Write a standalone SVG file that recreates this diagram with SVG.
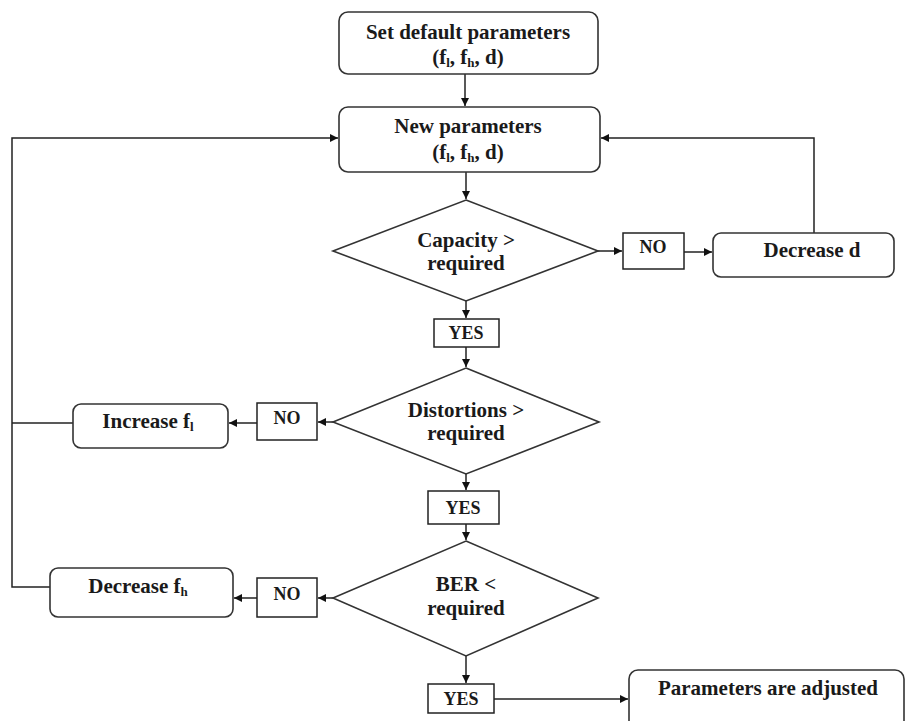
<svg xmlns="http://www.w3.org/2000/svg" width="908" height="721" viewBox="0 0 908 721">
<style>
.box{fill:#fff;stroke:#333;stroke-width:1.6}
.lbl{fill:#fff;stroke:#222;stroke-width:1.5}
.t{font-family:"Liberation Serif","Times New Roman",serif;font-weight:bold;font-size:21px;fill:#1a1a1a;text-anchor:middle}
.s{font-family:"Liberation Serif","Times New Roman",serif;font-weight:bold;font-size:18px;fill:#1a1a1a;text-anchor:middle}
.c{fill:none;stroke:#222;stroke-width:1.5}
</style>
<defs>
<marker id="ah" viewBox="0 0 10 10" refX="10" refY="5" markerWidth="8" markerHeight="8" markerUnits="userSpaceOnUse" orient="auto">
<path d="M0,0 L10,5 L0,10 z" fill="#111"/>
</marker>
</defs>
<rect width="908" height="721" fill="#fff"/>
<g id="connectors">
<path class="c" d="M465,74 V106" marker-end="url(#ah)"/>
<path class="c" d="M466,172 V199" marker-end="url(#ah)"/>
<path class="c" d="M598,251 H622" marker-end="url(#ah)"/>
<path class="c" d="M684,252 H712" marker-end="url(#ah)"/>
<path class="c" d="M814,233 V138 H601" marker-end="url(#ah)"/>
<path class="c" d="M466,301 V318" marker-end="url(#ah)"/>
<path class="c" d="M466,347 V367" marker-end="url(#ah)"/>
<path class="c" d="M333,422 H318" marker-end="url(#ah)"/>
<path class="c" d="M257,423 H229" marker-end="url(#ah)"/>
<path class="c" d="M466,474 V490" marker-end="url(#ah)"/>
<path class="c" d="M466,524 V540" marker-end="url(#ah)"/>
<path class="c" d="M333,598 H318" marker-end="url(#ah)"/>
<path class="c" d="M257,598 H234" marker-end="url(#ah)"/>
<path class="c" d="M466,656 V683" marker-end="url(#ah)"/>
<path class="c" d="M494,699 H628" marker-end="url(#ah)"/>
<path class="c" d="M73,423 H12"/>
<path class="c" d="M50,587 H12 V138 H338" marker-end="url(#ah)"/>
</g>
<g id="set-default">
<rect class="box" x="339" y="12" width="259" height="62" rx="9"/>
<text class="t" x="468" y="39">Set default parameters</text>
<text class="t" x="468" y="64">(f<tspan font-size="13" dy="3">l</tspan><tspan dy="-3">, f</tspan><tspan font-size="13" dy="3">h</tspan><tspan dy="-3">, d)</tspan></text>
</g>
<g id="new-params">
<rect class="box" x="339" y="107" width="261" height="65" rx="9"/>
<text class="t" x="468" y="133">New parameters</text>
<text class="t" x="468" y="159">(f<tspan font-size="13" dy="3">l</tspan><tspan dy="-3">, f</tspan><tspan font-size="13" dy="3">h</tspan><tspan dy="-3">, d)</tspan></text>
</g>
<g id="capacity">
<polygon class="box" points="466,200 598,251 466,301 333,251"/>
<text class="t" x="466" y="247">Capacity &gt;</text>
<text class="t" x="466" y="270">required</text>
</g>
<g id="no1">
<rect class="lbl" x="623" y="233" width="61" height="36"/>
<text class="s" x="653" y="253">NO</text>
</g>
<g id="decrease-d">
<rect class="box" x="713" y="233" width="181" height="44" rx="8"/>
<text class="t" x="812" y="257">Decrease d</text>
</g>
<g id="yes1">
<rect class="lbl" x="434" y="319" width="65" height="28"/>
<text class="s" x="466" y="339">YES</text>
</g>
<g id="distortions">
<polygon class="box" points="466,368 599,422 466,474 333,422"/>
<text class="t" x="466" y="417">Distortions &gt;</text>
<text class="t" x="466" y="440">required</text>
</g>
<g id="no2">
<rect class="lbl" x="257" y="403" width="60" height="37"/>
<text class="s" x="287" y="424">NO</text>
</g>
<g id="increase-fl">
<rect class="box" x="73" y="404" width="155" height="44" rx="8"/>
<text class="t" x="148" y="428">Increase f<tspan font-size="13" dy="3">l</tspan></text>
</g>
<g id="yes2">
<rect class="lbl" x="428" y="491" width="71" height="33"/>
<text class="s" x="463" y="514">YES</text>
</g>
<g id="ber">
<polygon class="box" points="466,541 598,598 466,656 333,598"/>
<text class="t" x="466" y="591">BER &lt;</text>
<text class="t" x="466" y="615">required</text>
</g>
<g id="no3">
<rect class="lbl" x="257" y="578" width="60" height="39"/>
<text class="s" x="287" y="600">NO</text>
</g>
<g id="decrease-fh">
<rect class="box" x="50" y="568" width="183" height="49" rx="8"/>
<text class="t" x="138" y="593">Decrease f<tspan font-size="13" dy="3">h</tspan></text>
</g>
<g id="yes3">
<rect class="lbl" x="428" y="684" width="66" height="29"/>
<text class="s" x="461" y="705">YES</text>
</g>
<g id="adjusted">
<rect class="box" x="629" y="670" width="275" height="70" rx="9"/>
<text class="t" x="768" y="695">Parameters are adjusted</text>
</g>
</svg>
